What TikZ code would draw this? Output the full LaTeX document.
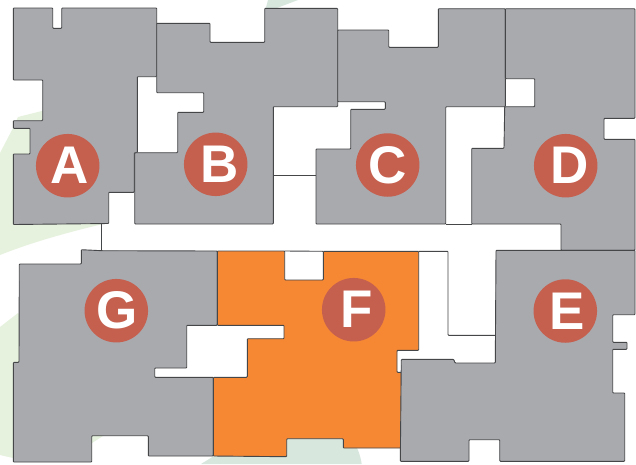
\documentclass[tikz,border=0pt]{standalone}
\usepackage{fontspec}
\setmainfont{Liberation Sans}
\definecolor{FlatGray}{HTML}{A9AAAE}
\definecolor{SoldOrange}{HTML}{F68834}
\definecolor{WallGray}{HTML}{454648}
\definecolor{BadgeRed}{HTML}{C5604F}
\definecolor{PaleGreen}{HTML}{E7F2DE}
\definecolor{SoftGreen}{HTML}{D8E7DE}
\tikzset{
  flatbox/.style={draw=WallGray, line width=0.9pt, rounded corners=0.8pt, fill=FlatGray},
  soldbox/.style={draw=WallGray, line width=0.9pt, rounded corners=0.8pt, fill=SoldOrange},
  wall/.style={draw=WallGray, line width=0.9pt, rounded corners=0.8pt},
  palepatch/.style={fill=PaleGreen},
  softpatch/.style={fill=SoftGreen},
  badge/.style={circle, fill=BadgeRed, text=white, minimum size=63.5pt, inner sep=0pt, font=\fontsize{53}{53}\selectfont\bfseries}
}
\begin{document}
\begin{tikzpicture}[x=1pt, y=-1pt]
\useasboundingbox (0,0) rectangle (636,464);
\fill[white] (0,0) rectangle (636,464);
\fill[palepatch] (0,153) -- (13,128) -- (18,117) -- (43,110.7) -- (101.7,224.3) .. controls (65,233) and (30,243) .. (0,255) -- cycle;
\fill[palepatch] (0,327) -- (18,313) -- (110,430) -- (103,436) -- (92,443) -- (13,458) -- (0,455) -- cycle;
\fill[softpatch] (201,464) -- (240,440) -- (345,435) .. controls (353,440) and (359,447) .. (361.7,464) -- cycle;
\fill[softpatch] (268,0) -- (298,0) -- (277,8) -- (265,11) -- cycle;
\draw[flatbox] (13.3,8) -- (52.7,8) -- (52.7,28.3) -- (61.7,28.3) -- (61.7,8) -- (156.7,8) -- (156.7,76.7) -- (137.3,76.7) -- (137.3,152.7) -- (134.3,152.7) -- (134.3,192.3) -- (108.7,192.3) -- (108.7,223.5) -- (13.3,224.5) -- (13.3,154) -- (30,154) -- (30,128.3) -- (13.3,128.3) -- (13.3,120.7) -- (42.7,120.7) -- (42.7,80) -- (13.3,80) -- cycle;
\draw[flatbox] (156.7,23.3) -- (210,23.3) -- (210,42.3) -- (264.7,42.3) -- (264.7,8.3) -- (337.7,8.3) -- (337.7,106.7) -- (273.3,106.7) -- (273.3,224) -- (134.7,224) -- (134.7,152.7) -- (177.7,152.7) -- (177.7,112.3) -- (203.7,112.3) -- (203.7,92.7) -- (156.7,92.7) -- cycle;
\draw[flatbox] (337.7,30) -- (388.7,30) -- (388.7,47.3) -- (438.3,47.3) -- (438.3,8.7) -- (505.3,8.7) -- (505.3,106.7) -- (445.7,106.7) -- (445.7,224) -- (316,224) -- (316,149) -- (350.7,149) -- (350.7,109.3) -- (385.3,109.3) -- (385.3,101.7) -- (337.7,101.7) -- cycle;
\draw[flatbox] (505.3,8.7) -- (635,8.7) -- (635,118.3) -- (604,118.3) -- (604,139.3) -- (635,139.3) -- (635,250.3) -- (561,250.3) -- (561,224) -- (471.7,224) -- (471.7,148.3) -- (504,148.3) -- (504.7,106.7) -- (534.7,106.7) -- (534.7,78.7) -- (506.3,78.7) -- (505.3,78.7) -- cycle;
\draw[wall] (273.3,175.7) -- (316,175.7);
\draw[wall] (445.7,224) -- (471.7,224);
\draw[wall] (101.3,224) -- (101.3,250);
\draw[flatbox] (19.3,264) -- (81.3,264) -- (81.3,249.7) -- (102,250.7) -- (217.3,251) -- (217.3,325.3) -- (186.7,325.3) -- (186.7,368) -- (154.7,368) -- (154.7,377.3) -- (213.3,377.3) -- (213.3,456) -- (148.3,456) -- (148.3,435.7) -- (91.7,435.7) -- (91.7,462) -- (13.3,462) -- (13.3,362.3) -- (19,362.3) -- cycle;
\draw[soldbox] (217.3,251) -- (284.7,251) -- (284.7,280) -- (323.3,280) -- (323.3,251.3) -- (418.7,251.3) -- (418.7,350.3) -- (397,350.3) -- (397,372.3) -- (401.3,372.3) -- (401.3,448) -- (343.3,448) -- (343.3,438.7) -- (286.7,438.7) -- (286.7,456.7) -- (213.3,456) -- (213.3,377.3) -- (247.3,377.3) -- (247.3,338.7) -- (284,338.7) -- (284,325.3) -- (217.3,325.3) -- cycle;
\draw[wall] (284.7,251) -- (323.3,251.3);
\draw[wall] (418.7,251.3) -- (448,251.3) -- (448,335.3) -- (495.3,335.3);
\draw[flatbox] (496,250.3) -- (635,250.3) -- (635,314.7) -- (612.7,314.7) -- (612.7,342.3) -- (627,342.3) -- (627,349.3) -- (612.7,349.3) -- (612.7,393) -- (624.7,393) -- (624.7,461.3) -- (499.7,461.3) -- (499.7,439.7) -- (469,439.7) -- (469,461.3) -- (400.3,461.3) -- (401.3,359.3) -- (453.7,359.3) -- (455,363) -- (495.3,363) -- cycle;
\node[badge] (badgeA) at (67.7,165.7) {\kern3pt A};
\node[badge] (badgeB) at (215.7,164.3) {\kern8pt B};
\node[badge] (badgeC) at (387.7,165) {C};
\node[badge] (badgeD) at (565.7,165.7) {\kern7pt D};
\node[badge] (badgeE) at (565.3,311) {\kern3pt E};
\node[badge] (badgeF) at (353.7,309.7) {\kern5pt F};
\node[badge] (badgeG) at (116.3,310.7) {\kern2pt G};
\end{tikzpicture}
\end{document}
